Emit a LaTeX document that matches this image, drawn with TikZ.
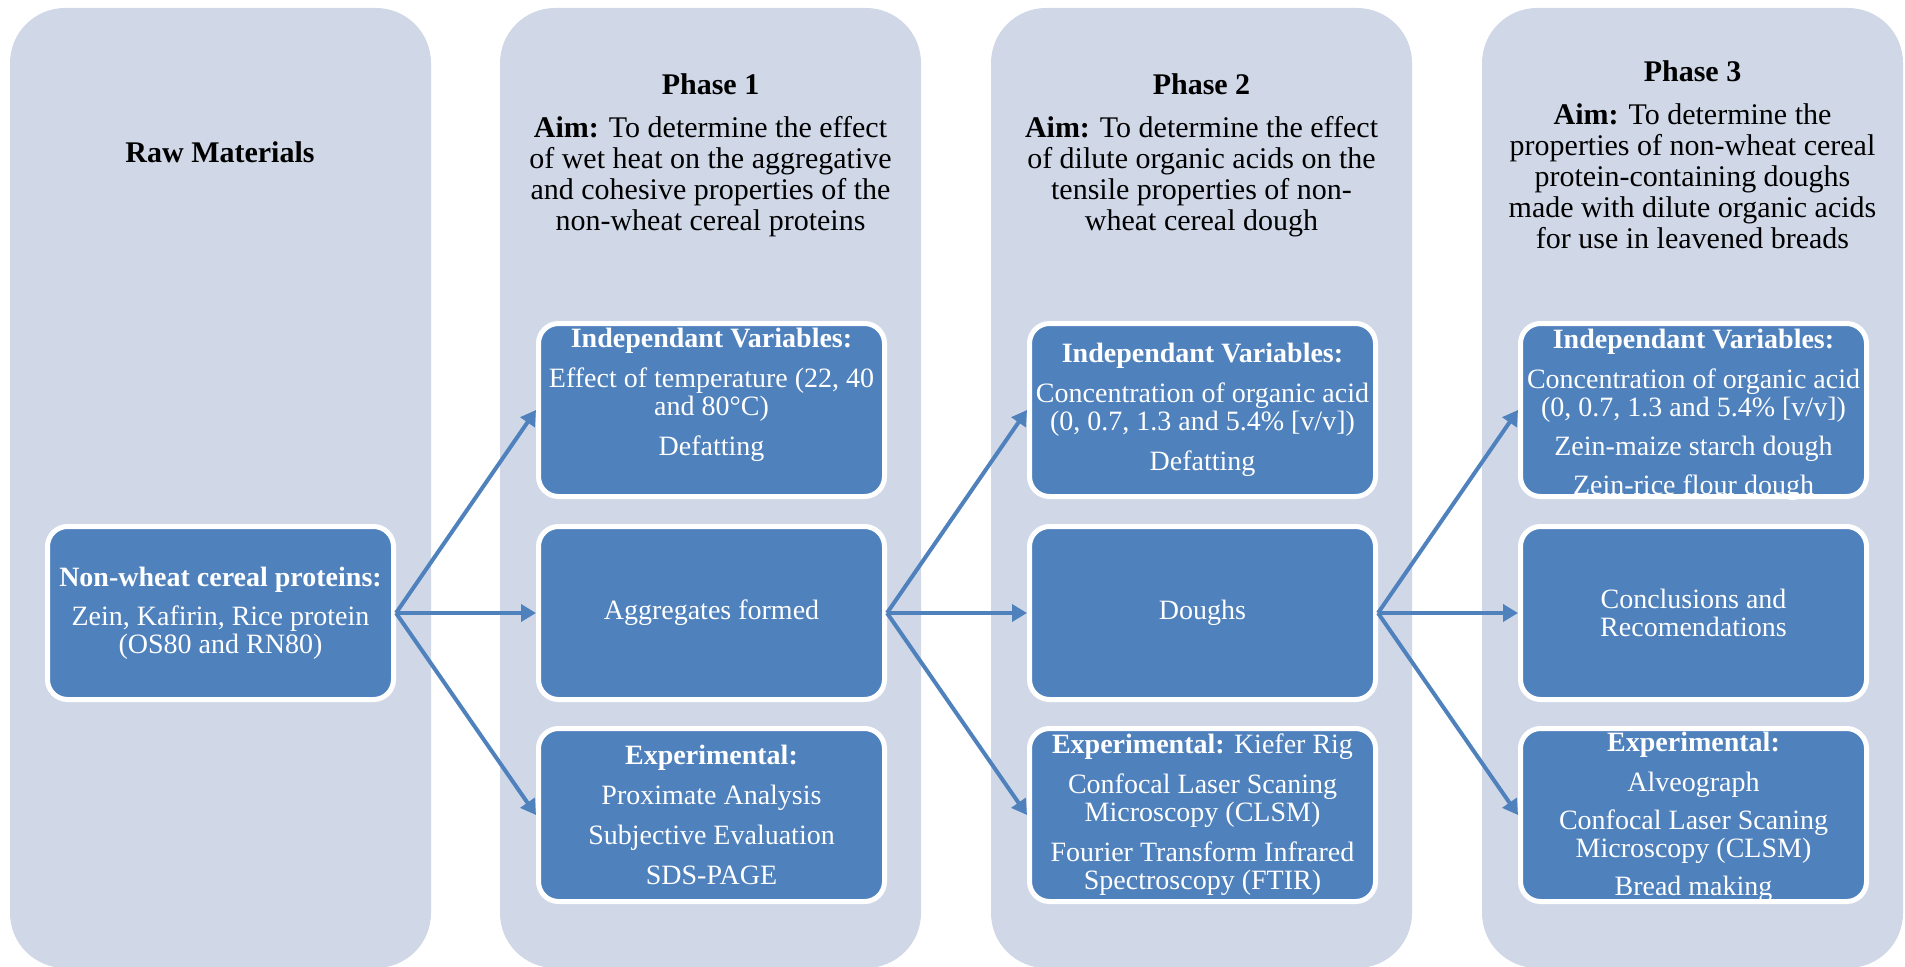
\documentclass[tikz,border=0pt]{standalone}
\usepackage{fontspec}
\setmainfont{Liberation Serif}
\usepackage{tikz}
\usetikzlibrary{arrows.meta}
\definecolor{panel}{RGB}{208,216,232}
\definecolor{boxblue}{RGB}{79,129,189}
\tikzset{every picture/.style={line width=0.75pt}}
\tikzset{
  column/.style={fill=panel, rounded corners=55pt},
  head/.style={align=center, font=\fontsize{30}{31}\selectfont},
  boxtext/.style={inner sep=0pt, text=white, align=center, font=\fontsize{28}{28}\selectfont},
  itembox/.style={boxtext, draw=white, line width=5pt, fill=boxblue, rounded corners=20pt,
    minimum width=346pt, minimum height=173pt},
  flow/.style={draw=boxblue, line width=4pt, -{Triangle[length=15pt,width=17pt]}}
}

\begin{document}
\begin{tikzpicture}[x=1pt, y=-1pt]
\useasboundingbox (0,0) rectangle (1905,966);

% Columns
\foreach \x in {10,500,991,1482}
  \fill[column] (\x,8) rectangle ++(421,960);

% Raw materials
\node[head] (raw) at (220,152) {\textbf{Raw Materials}};
\node[itembox] (src) at (220.5,613) {\textbf{Non-wheat cereal proteins:}\\[11pt]Zein, Kafirin, Rice protein\\(OS80 and RN80)};

% Phase 1
\node[head] (ph1) at (710.5,155) {\textbf{Phase 1}\\[12pt]\textbf{Aim:} To determine the effect\\of wet heat on the aggregative\\and cohesive properties of the\\non-wheat cereal proteins};
\node[itembox] (p1top) at (711.5,410) {};
\node[boxtext, yshift=15pt] (p1toptxt) at (p1top) {\textbf{Independant Variables:}\\[12pt]Effect of temperature (22, 40\\and 80°C)\\[12pt]Defatting};
\node[itembox] (p1mid) at (711.5,613) {Aggregates formed};
\node[itembox] (p1bot) at (711.5,815) {\textbf{Experimental:}\\[12pt]Proximate Analysis\\[12pt]Subjective Evaluation\\[12pt]SDS-PAGE};

% Phase 2
\node[head] (ph2) at (1201.5,155) {\textbf{Phase 2}\\[12pt]\textbf{Aim:} To determine the effect\\of dilute organic acids on the\\tensile properties of non-\\wheat cereal dough};
\node[itembox] (p2top) at (1202.5,410) {\textbf{Independant Variables:}\\[12pt]Concentration of organic acid\\(0, 0.7, 1.3 and 5.4\% [v/v])\\[12pt]Defatting};
\node[itembox] (p2mid) at (1202.5,613) {Doughs};
\node[itembox] (p2bot) at (1202.5,815) {\textbf{Experimental:} Kiefer Rig\\[12pt]Confocal Laser Scaning\\Microscopy (CLSM)\\[12pt]Fourier Transform Infrared\\Spectroscopy (FTIR)};

% Phase 3
\node[head] (ph3) at (1692.5,155) {\textbf{Phase 3}\\[12pt]\textbf{Aim:} To determine the\\properties of non-wheat cereal\\protein-containing doughs\\made with dilute organic acids\\for use in leavened breads};
\node[itembox] (p3top) at (1693.5,410) {};
\node[boxtext, yshift=-5pt] (p3toptxt) at (p3top) {\textbf{Independant Variables:}\\[12pt]Concentration of organic acid\\(0, 0.7, 1.3 and 5.4\% [v/v])\\[11pt]Zein-maize starch dough\\[11pt]Zein-rice flour dough};
\node[itembox] (p3mid) at (1693.5,613) {Conclusions and\\Recomendations};
\node[itembox] (p3bot) at (1693.5,815) {};
\node[boxtext, yshift=-2pt] (p3bottxt) at (p3bot) {\textbf{Experimental:}\\[12pt]Alveograph\\[10pt]Confocal Laser Scaning\\Microscopy (CLSM)\\[10pt]Bread making};

% Arrows
\draw[flow] (src.east) -- (p1top.west);
\draw[flow] (src.east) -- (p1mid.west);
\draw[flow] (src.east) -- (p1bot.west);
\draw[flow] (p1mid.east) -- (p2top.west);
\draw[flow] (p1mid.east) -- (p2mid.west);
\draw[flow] (p1mid.east) -- (p2bot.west);
\draw[flow] (p2mid.east) -- (p3top.west);
\draw[flow] (p2mid.east) -- (p3mid.west);
\draw[flow] (p2mid.east) -- (p3bot.west);
\end{tikzpicture}
\end{document}
